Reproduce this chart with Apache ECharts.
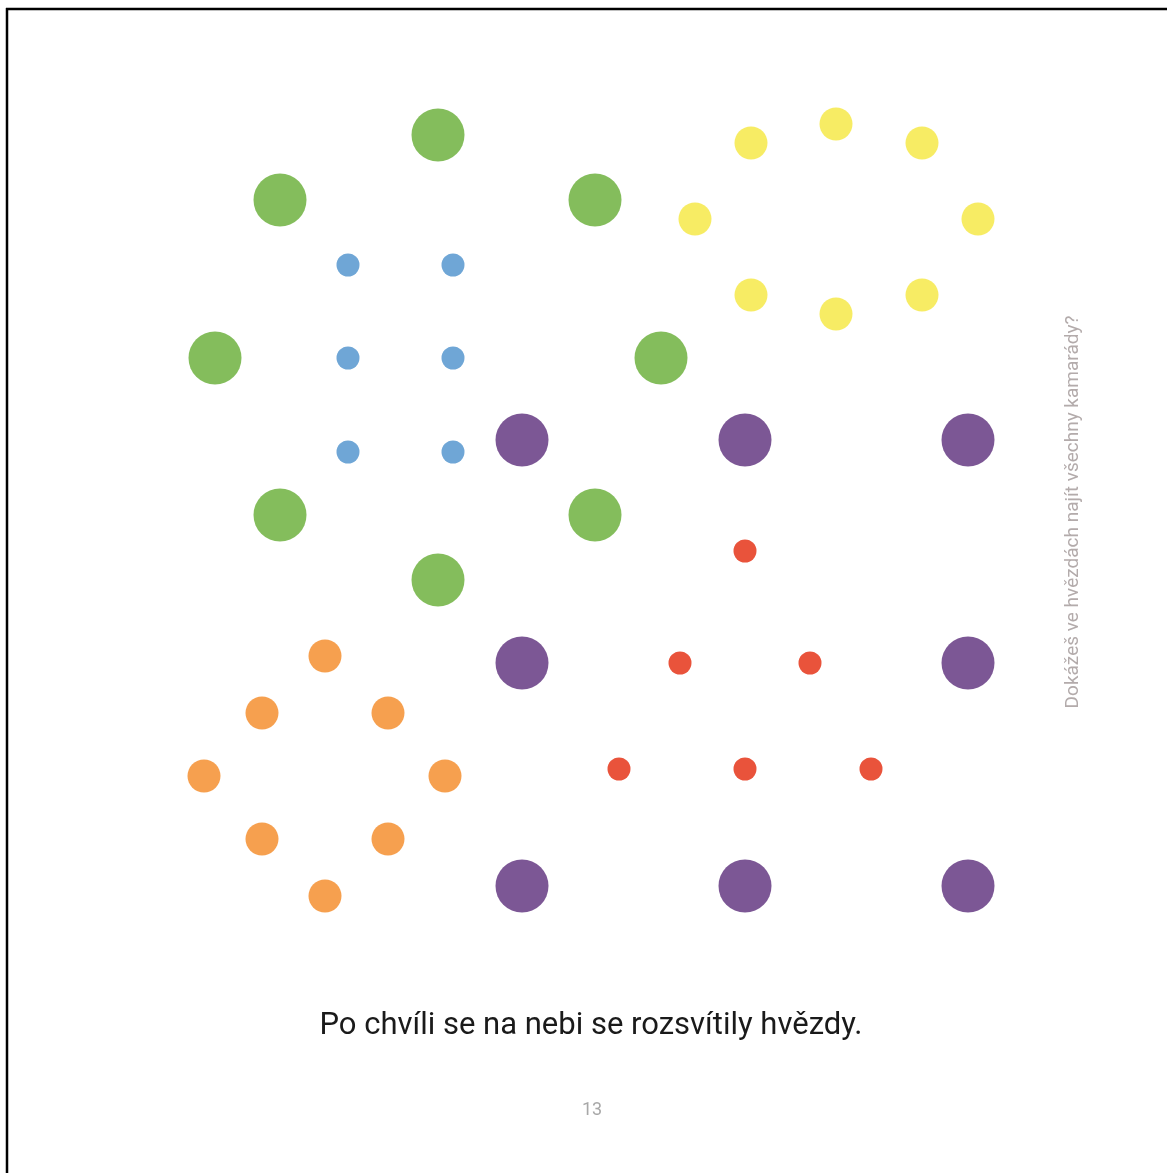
<!DOCTYPE html>
<html>
<head>
<meta charset="utf-8">
<style>
html,body{margin:0;padding:0;background:#fff;}
#chart{width:1167px;height:1173px;}
</style>
<script src="https://cdn.jsdelivr.net/npm/echarts@6/dist/echarts.min.js"></script>
</head>
<body>
<div id="chart"></div>
<script>
// Star groups (page coordinates: x right, y down)
var greenStars  = [[438,135],[280,200],[595,200],[215,358],[661,358],[280,515],[595,515],[438,580]];
var blueStars   = [[348,265],[453,265],[348,358],[453,358],[348,452],[453,452]];
var yellowStars = [[836,124],[751,143],[922,143],[695,219],[978,219],[751,295],[922,295],[836,314]];
var purpleStars = [[522,440],[745,440],[968,440],[522,663],[968,663],[522,886],[745,886],[968,886]];
var redStars    = [[745,551],[680,663],[810,663],[619,769],[745,769],[871,769]];
var orangeStars = [[325,656],[262,713],[388,713],[204,776],[445,776],[262,839],[388,839],[325,896]];

var captionText = 'Po chvíli se na nebi se rozsvítily hvězdy.';
var sideText = 'Dokážeš ve hvězdách najít všechny kamarády?';
var pageNumber = '13';

var chart = echarts.init(document.getElementById('chart'), null, {renderer: 'canvas'});

function group(name, data, size, color) {
  return {
    name: name, type: 'scatter', data: data, symbol: 'circle',
    symbolSize: size, itemStyle: {color: color, opacity: 1},
    silent: true, animation: false
  };
}

chart.setOption({
  backgroundColor: '#ffffff',
  animation: false,
  grid: {left: 0, right: 0, top: 0, bottom: 0},
  xAxis: {type: 'value', min: 0, max: 1167, show: false},
  yAxis: {type: 'value', min: 0, max: 1173, inverse: true, show: false},
  series: [
    group('green', greenStars, 53, '#84bd5c'),
    group('blue', blueStars, 23, '#6fa6d6'),
    group('yellow', yellowStars, 33, '#f7ec64'),
    group('purple', purpleStars, 53, '#7c5795'),
    group('red', redStars, 23, '#e9533b'),
    group('orange', orangeStars, 33, '#f6a04f')
  ],
  graphic: [
    {type: 'line', shape: {x1: 6, y1: 9, x2: 1167, y2: 9}, style: {stroke: '#000', lineWidth: 2.5}},
    {type: 'line', shape: {x1: 7, y1: 8, x2: 7, y2: 1173}, style: {stroke: '#000', lineWidth: 2.5}},
    {type: 'text', x: 591, y: 1026, style: {text: captionText, font: '31px Roboto', fill: '#1a1a1a', textAlign: 'center', textVerticalAlign: 'middle'}},
    {type: 'text', x: 592, y: 1110, style: {text: pageNumber, font: '18px Roboto', fill: '#a8a8a8', textAlign: 'center', textVerticalAlign: 'middle'}},
    {type: 'text', x: 1073, y: 512, rotation: Math.PI / 2, style: {text: sideText, font: '19px Roboto', fill: '#b3abab', textAlign: 'center', textVerticalAlign: 'middle'}}
  ]
});
</script>
</body>
</html>
